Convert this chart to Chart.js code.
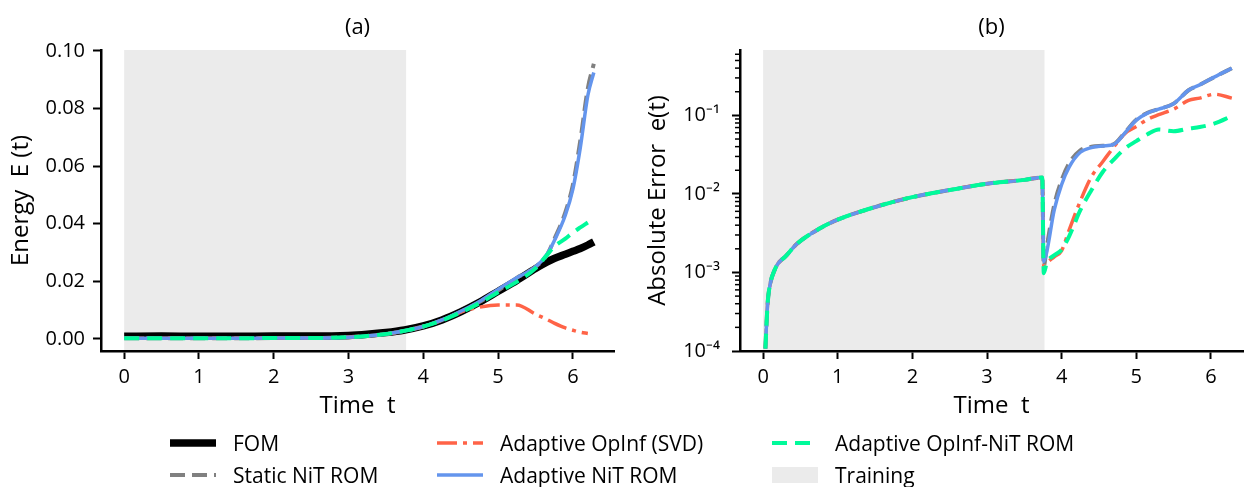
<!DOCTYPE html>
<html>
<head>
<meta charset="utf-8">
<script src="https://cdn.jsdelivr.net/npm/chart.js@4.4.1/dist/chart.umd.min.js"></script>
<style>
  body { margin: 0; background: #fff; width: 1245px; height: 487px; overflow: hidden; position: relative; font-family: "Open Sans", sans-serif; }
  #wrapA { position: absolute; left: 0; top: 0; width: 620px; height: 430px; }
  #wrapB { position: absolute; left: 620px; top: 0; width: 625px; height: 430px; }
  .leg { position: absolute; height: 24px; display: flex; align-items: center; font-size: 21px; color: #000; white-space: nowrap; }
  .leg svg { margin-right: 17px; }
</style>
</head>
<body>
<div id="wrapA"><canvas id="chartA" width="620" height="430"></canvas></div>
<div id="wrapB"><canvas id="chartB" width="625" height="430"></canvas></div>
<div id="legend"></div>
<script>
const FONT = '"Open Sans", sans-serif';

// series names
const nameFOM = 'FOM';
const nameStatic = 'Static NiT ROM';
const nameOpInf = 'Adaptive OpInf (SVD)';
const nameNiT = 'Adaptive NiT ROM';
const nameOpInfNiT = 'Adaptive OpInf-NiT ROM';
const nameTraining = 'Training';

// training window (time)
const trainingSpan = [0, 3.77];

// (a) energy E(t)
const timeA = [0, 0.5, 1, 1.5, 2, 2.5, 3, 3.25, 3.5, 3.75, 4, 4.25, 4.5, 4.75, 5, 5.25, 5.5, 5.65, 5.75, 5.9, 6, 6.1, 6.2, 6.28];
const energyFOM     = [0.0009, 0.0010, 0.0009, 0.0009, 0.0010, 0.0010, 0.0012, 0.0016, 0.0022, 0.0031, 0.0045, 0.0066, 0.0094, 0.0127, 0.0165, 0.0203, 0.0244, 0.0266, 0.0279, 0.0294, 0.0304, 0.0314, 0.0326, 0.0337];
const energyStatic  = [0.0002, 0.0002, 0.0002, 0.0002, 0.0003, 0.0003, 0.0006, 0.0010, 0.0017, 0.0028, 0.0043, 0.0065, 0.0094, 0.0128, 0.0168, 0.0212, 0.0250, 0.0290, 0.0345, 0.0440, 0.0535, 0.0690, 0.0870, 0.0955];
const energyOpInf   = [0.0002, 0.0002, 0.0002, 0.0002, 0.0003, 0.0003, 0.0006, 0.0010, 0.0017, 0.0028, 0.0043, 0.0065, 0.0093, 0.0110, 0.0118, 0.0118, 0.0086, 0.0068, 0.0055, 0.0038, 0.0030, 0.0023, 0.0019, null];
const energyNiT     = [0.0002, 0.0002, 0.0002, 0.0002, 0.0003, 0.0003, 0.0006, 0.0010, 0.0017, 0.0028, 0.0043, 0.0066, 0.0096, 0.0130, 0.0172, 0.0212, 0.0250, 0.0292, 0.0340, 0.0430, 0.0520, 0.0665, 0.0845, 0.0925];
const energyOpInfNiT= [0.0002, 0.0002, 0.0002, 0.0002, 0.0003, 0.0003, 0.0006, 0.0010, 0.0017, 0.0028, 0.0043, 0.0064, 0.0092, 0.0124, 0.0162, 0.0198, 0.0245, 0.0290, 0.0320, 0.0348, 0.0369, 0.0387, 0.0404, null];

const xTicks = [0, 1, 2, 3, 4, 5, 6];
const yTicksA = [0, 0.02, 0.04, 0.06, 0.08, 0.10];

// (b) absolute error e(t)
const timeB = [0.03, 0.06, 0.1, 0.15, 0.2, 0.3, 0.45, 0.75, 1, 1.5, 2, 2.5, 3, 3.5, 3.74, 3.76, 3.8, 3.9, 4, 4.1, 4.25, 4.4, 4.55, 4.7, 4.85, 5, 5.15, 5.3, 5.5, 5.7, 5.85, 6.05, 6.28];
const errStatic   = [1.07e-4, 4.0e-4, 7.5e-4, 1.05e-3, 1.3e-3, 1.6e-3, 2.3e-3, 3.6e-3, 4.7e-3, 6.8e-3, 9.1e-3, 1.12e-2, 1.35e-2, 1.51e-2, 1.62e-2, 1.2e-3, 2.1e-3, 7.2e-3, 1.5e-2, 2.45e-2, 3.6e-2, 4.0e-2, 4.1e-2, 4.3e-2, 6.1e-2, 8.8e-2, 0.108, 0.120, 0.141, 0.209, 0.245, 0.309, 0.398];
const errOpInf    = [1.07e-4, 4.0e-4, 7.5e-4, 1.05e-3, 1.3e-3, 1.6e-3, 2.3e-3, 3.6e-3, 4.7e-3, 6.8e-3, 9.1e-3, 1.12e-2, 1.35e-2, 1.51e-2, 1.62e-2, 1.2e-3, 1.32e-3, 1.58e-3, 1.9e-3, 3.47e-3, 8.1e-3, 1.66e-2, 2.57e-2, 3.98e-2, 5.9e-2, 7.2e-2, 8.9e-2, 0.102, 0.120, 0.155, 0.166, 0.186, 0.166];
const errNiT      = [1.07e-4, 4.0e-4, 7.5e-4, 1.05e-3, 1.3e-3, 1.6e-3, 2.3e-3, 3.6e-3, 4.7e-3, 6.8e-3, 9.1e-3, 1.12e-2, 1.35e-2, 1.51e-2, 1.62e-2, 1.38e-3, 1.82e-3, 6.2e-3, 1.32e-2, 2.19e-2, 3.39e-2, 3.89e-2, 4.07e-2, 4.27e-2, 6.0e-2, 8.7e-2, 0.107, 0.120, 0.141, 0.209, 0.245, 0.309, 0.398];
const errOpInfNiT = [1.07e-4, 4.0e-4, 7.5e-4, 1.05e-3, 1.3e-3, 1.6e-3, 2.3e-3, 3.6e-3, 4.7e-3, 6.8e-3, 9.1e-3, 1.12e-2, 1.35e-2, 1.51e-2, 1.62e-2, 9.8e-4, 1.32e-3, 1.66e-3, 1.95e-3, 2.88e-3, 6.2e-3, 1.12e-2, 1.9e-2, 2.75e-2, 3.8e-2, 4.7e-2, 5.75e-2, 6.6e-2, 6.3e-2, 6.8e-2, 7.1e-2, 7.9e-2, 9.8e-2];

const yTicksB = [1e-4, 1e-3, 1e-2, 1e-1];
const minorMult = [2, 3, 4, 5, 6, 7, 8, 9];

const styles = {
    fom:      { color: '#000000', width: 7.5, dash: [] },
    stat:     { color: '#808080', width: 4, dash: [15, 7] },
    opinf:    { color: '#ff6347', width: 3.5, dash: [20, 6, 4, 6] },
    nit:      { color: '#6495ed', width: 3.5, dash: [] },
    opinfnit: { color: '#00fa9a', width: 4, dash: [15, 8] }
};

function pts(times, vals) {
    return times.map((t, i) => ({ x: t, y: vals[i] }));
}

function ds(label, times, vals, st, order) {
    return {
        label,
        data: pts(times, vals),
        borderColor: st.color,
        borderWidth: st.width,
        borderDash: st.dash,
        borderCapStyle: 'butt',
        pointRadius: 0,
        cubicInterpolationMode: 'monotone',
        fill: false,
        order
    };
}

const sup = { '-': '\u207B', '1': '\u00B9', '2': '\u00B2', '3': '\u00B3', '4': '\u2074' };
function logLabel(v) {
    const e = String(Math.round(Math.log10(v)));
    return '10' + e.split('').map(c => sup[c]).join('');
}

// grey training band, under everything
const trainingBand = {
    id: 'trainingBand',
    beforeDraw(chart) {
        const { ctx, chartArea, scales } = chart;
        const x0 = scales.x.getPixelForValue(trainingSpan[0]);
        const x1 = scales.x.getPixelForValue(trainingSpan[1]);
        ctx.save();
        ctx.fillStyle = '#ebebeb';
        ctx.fillRect(x0, chartArea.top, x1 - x0, chartArea.bottom - chartArea.top);
        ctx.restore();
    }
};

// panel title centred over the plot area (the built-in one centres on the canvas)
const panelTitle = {
    id: 'panelTitle',
    afterDraw(chart, args, opts) {
        const { ctx, chartArea } = chart;
        ctx.save();
        ctx.font = `22px ${FONT}`;
        ctx.fillStyle = '#000';
        ctx.textAlign = 'center';
        ctx.textBaseline = 'middle';
        ctx.fillText(opts.text, (chartArea.left + chartArea.right) / 2, chartArea.top - 22);
        ctx.restore();
    }
};

// short minor ticks on the log axis
const minorTicks = {
    id: 'minorTicks',
    afterDraw(chart) {
        const { ctx, chartArea, scales } = chart;
        const y = scales.y;
        ctx.save();
        ctx.strokeStyle = '#000';
        ctx.lineWidth = 1.5;
        yTicksB.forEach(dec => {
            minorMult.forEach(m => {
                const v = dec * m;
                if (v > y.max) return;
                const py = y.getPixelForValue(v);
                ctx.beginPath();
                ctx.moveTo(chartArea.left - 1, py);
                ctx.lineTo(chartArea.left - 5, py);
                ctx.stroke();
            });
        });
        ctx.restore();
    }
};

function axisCommon() {
    return {
        grid: { display: true, drawOnChartArea: false, drawTicks: true, tickLength: 8, tickWidth: 2, tickColor: '#000' },
        border: { display: true, color: '#000', width: 2.5 }
    };
}

function xScale(max) {
    return {
        type: 'linear',
        min: -0.31,
        max,
        afterBuildTicks: s => { s.ticks = xTicks.map(v => ({ value: v })); },
        afterFit: s => { s.height = 79; },
        ...axisCommon(),
        ticks: { color: '#000', font: { size: 20, family: FONT }, padding: 6, maxRotation: 0, autoSkip: false },
        title: { display: true, text: 'Time  t', color: '#000', font: { size: 24, family: FONT }, padding: { top: 0, bottom: 9 } }
    };
}

const chartA = new Chart(document.getElementById('chartA'), {
    type: 'line',
    data: {
        datasets: [
            ds(nameFOM, timeA, energyFOM, styles.fom, 5),
            ds(nameStatic, timeA, energyStatic, styles.stat, 4),
            ds(nameOpInf, timeA, energyOpInf, styles.opinf, 3),
            ds(nameNiT, timeA, energyNiT, styles.nit, 2),
            ds(nameOpInfNiT, timeA, energyOpInfNiT, styles.opinfnit, 1)
        ]
    },
    options: {
        responsive: false,
        animation: false,
        devicePixelRatio: 1,
        layout: { padding: { left: 0, right: 6, top: 50, bottom: 0 } },
        plugins: {
            legend: { display: false },
            tooltip: { enabled: false },
            title: { display: false },
            panelTitle: { text: '(a)' }
        },
        scales: {
            x: xScale(6.55),
            y: {
                type: 'linear',
                min: -0.0042,
                max: 0.1003,
                afterBuildTicks: s => { s.ticks = yTicksA.map(v => ({ value: v })); },
                afterFit: s => { s.width = 101; },
                ...axisCommon(),
                ticks: { color: '#000', font: { size: 20, family: FONT }, padding: 8, callback: v => v.toFixed(2) },
                title: { display: true, text: 'Energy  E (t)', color: '#000', font: { size: 24, family: FONT }, padding: { top: 7, bottom: 0 } }
            }
        }
    },
    plugins: [trainingBand, panelTitle]
});

const chartB = new Chart(document.getElementById('chartB'), {
    type: 'line',
    data: {
        datasets: [
            ds(nameStatic, timeB, errStatic, styles.stat, 4),
            ds(nameOpInf, timeB, errOpInf, styles.opinf, 3),
            ds(nameNiT, timeB, errNiT, styles.nit, 2),
            ds(nameOpInfNiT, timeB, errOpInfNiT, styles.opinfnit, 1)
        ]
    },
    options: {
        responsive: false,
        animation: false,
        devicePixelRatio: 1,
        layout: { padding: { left: 0, right: 2, top: 50, bottom: 0 } },
        plugins: {
            legend: { display: false },
            tooltip: { enabled: false },
            title: { display: false },
            panelTitle: { text: '(b)' }
        },
        scales: {
            x: xScale(6.43),
            y: {
                type: 'logarithmic',
                min: 1e-4,
                max: 0.68,
                afterBuildTicks: s => { s.ticks = yTicksB.map(v => ({ value: v })); },
                afterFit: s => { s.width = 120; },
                ...axisCommon(),
                ticks: { color: '#000', font: { size: 20, family: FONT }, padding: 12, autoSkip: false, callback: v => logLabel(v) },
                title: { display: true, text: 'Absolute Error  e(t)', color: '#000', font: { size: 24, family: FONT }, padding: { top: 24, bottom: 0 } }
            }
        }
    },
    plugins: [trainingBand, minorTicks, panelTitle]
});

// legend, 3 columns x 2 rows
const legendItems = [
    { name: nameFOM, st: styles.fom, left: 170, top: 431 },
    { name: nameStatic, st: styles.stat, left: 170, top: 463 },
    { name: nameOpInf, st: styles.opinf, left: 437, top: 431 },
    { name: nameNiT, st: styles.nit, left: 437, top: 463 },
    { name: nameOpInfNiT, st: styles.opinfnit, left: 772, top: 431 },
    { name: nameTraining, patch: '#ebebeb', left: 772, top: 463 }
];
const legendEl = document.getElementById('legend');
legendItems.forEach(it => {
    const div = document.createElement('div');
    div.className = 'leg';
    div.style.left = it.left + 'px';
    div.style.top = it.top + 'px';
    let svg;
    if (it.patch) {
        svg = `<svg width="46" height="20"><rect x="0" y="2" width="46" height="16" fill="${it.patch}"/></svg>`;
    } else {
        const dash = it.st.dash.length ? `stroke-dasharray="${it.st.dash.join(' ')}"` : '';
        svg = `<svg width="46" height="20"><line x1="0" y1="10" x2="46" y2="10" stroke="${it.st.color}" stroke-width="${it.st.width}" ${dash}/></svg>`;
    }
    div.innerHTML = svg + `<span>${it.name}</span>`;
    legendEl.appendChild(div);
});
</script>
</body>
</html>
